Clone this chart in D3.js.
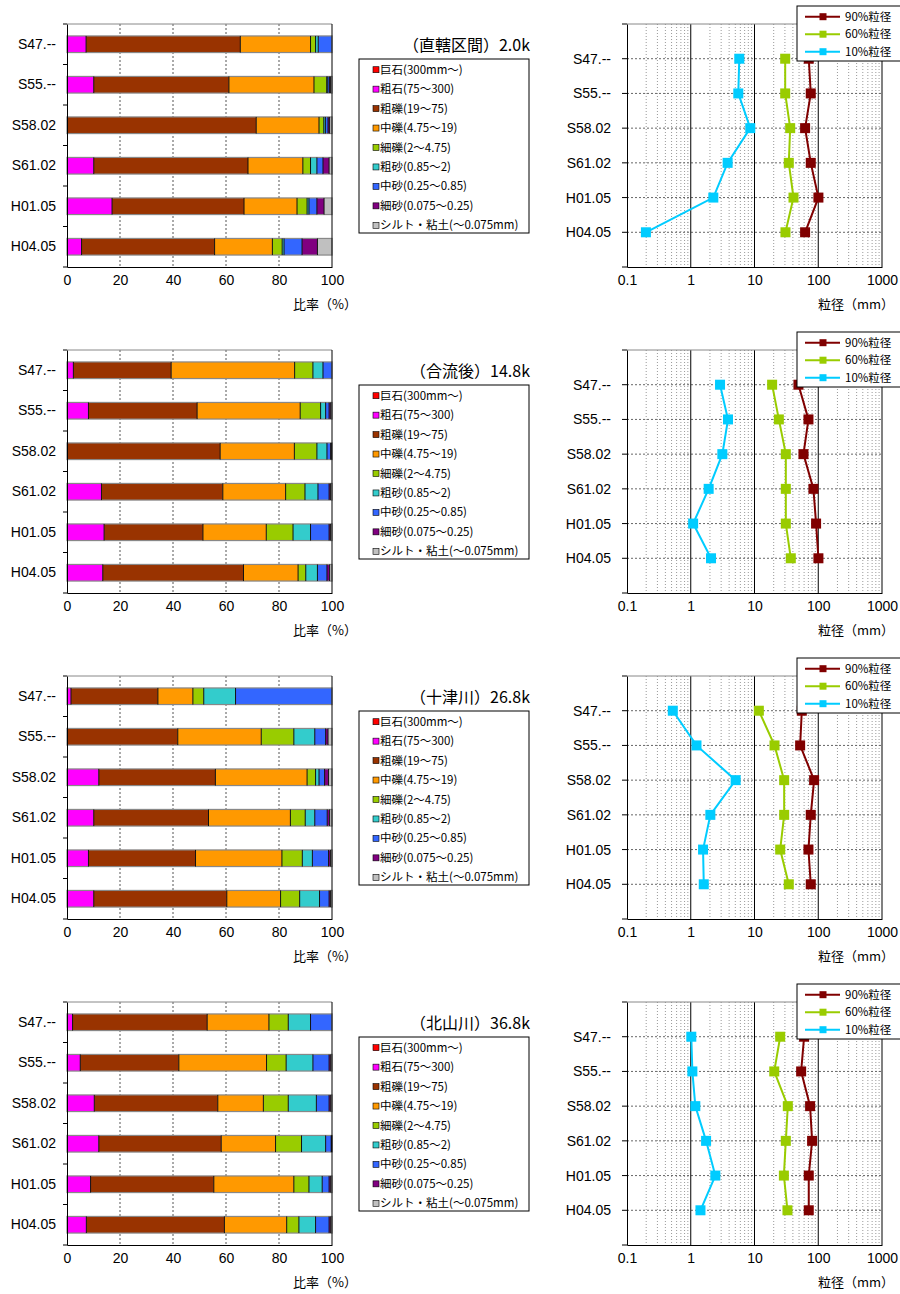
<!DOCTYPE html>
<html>
<head>
<meta charset="utf-8">
<script src="https://cdn.jsdelivr.net/npm/d3@7"></script>
<style>
  body { margin: 0; background: #fff; }
  text { font-family: "Liberation Sans", Arial, "Noto Sans CJK JP", sans-serif; }
  .jp { font-family: "Noto Sans CJK JP", sans-serif; }
</style>
</head>
<body>
<svg id="chart" width="900" height="1294"></svg>
<script>
// categories (survey years)
var categories = ["S47.--", "S55.--", "S58.02", "S61.02", "H01.05", "H04.05"];
var classNames = ["巨石(300mm～)", "粗石(75～300)", "粗礫(19～75)", "中礫(4.75～19)", "細礫(2～4.75)",
                  "粗砂(0.85～2)", "中砂(0.25～0.85)", "細砂(0.075～0.25)", "シルト・粘土(～0.075mm)"];
var classColors = ["#FF0000", "#FF00FF", "#993300", "#FF9900", "#99CC00", "#33CCCC", "#3366FF", "#800080", "#C0C0C0"];
var titles = ["（直轄区間）2.0k", "（合流後）14.8k", "（十津川）26.8k", "（北山川）36.8k"];
var xTicks = [0, 20, 40, 60, 80, 100];
var logTicks = [0.1, 1, 10, 100, 1000];
var sizeNames = ["90%粒径", "60%粒径", "10%粒径"];
var sizeColors = ["#800000", "#99CC00", "#00CCFF"];

// composition ratios (%), one row per category, one value per class
var ratio1 = [
  [0, 7.2, 58.2, 26.5, 1.9, 1.0, 5.2, 0, 0],
  [0, 10.1, 51.0, 32.1, 4.8, 0.4, 0.6, 0.4, 0.6],
  [0, 0, 71.4, 23.7, 1.8, 0.6, 1.0, 0.6, 0.9],
  [0, 10.1, 58.2, 20.7, 2.9, 2.4, 2.3, 2.3, 1.1],
  [0, 17.0, 49.8, 20.0, 3.8, 0.7, 3.0, 2.7, 3.0],
  [0, 5.5, 50.2, 21.8, 3.7, 0.7, 6.8, 5.8, 5.5]
];
var ratio2 = [
  [0, 2.4, 36.9, 46.6, 6.9, 3.8, 3.4, 0, 0],
  [0, 8.1, 41.0, 38.9, 7.7, 1.9, 1.3, 0.6, 0.5],
  [0, 0, 57.8, 28.0, 8.5, 3.8, 1.4, 0.2, 0.3],
  [0, 13.0, 45.8, 23.7, 7.3, 4.9, 4.2, 0.5, 0.6],
  [0, 14.0, 37.3, 23.9, 10.1, 6.6, 7.0, 0.5, 0.6],
  [0, 13.5, 53.1, 20.6, 2.9, 4.4, 3.6, 1.0, 0.9]
];
var ratio3 = [
  [0, 1.5, 32.8, 13.2, 4.1, 12.0, 36.4, 0, 0],
  [0, 0, 41.8, 31.5, 12.3, 7.9, 4.1, 0.9, 1.5],
  [0, 12.0, 44.0, 34.6, 3.2, 1.3, 2.1, 1.5, 1.3],
  [0, 10.1, 43.3, 30.9, 5.6, 3.6, 4.7, 0.9, 0.9],
  [0, 8.1, 40.4, 32.6, 7.7, 3.8, 6.1, 0.7, 0.6],
  [0, 10.1, 50.2, 20.3, 7.2, 7.5, 3.6, 0.5, 0.6]
];
var ratio4 = [
  [0, 2.1, 50.8, 23.3, 7.3, 8.4, 8.1, 0, 0],
  [0, 5.0, 37.2, 33.1, 7.4, 10.1, 6.1, 0.6, 0.5],
  [0, 10.3, 46.6, 17.2, 9.4, 10.6, 4.8, 0.6, 0.5],
  [0, 12.0, 46.2, 20.5, 9.8, 9.1, 2.1, 0.2, 0.1],
  [0, 8.9, 46.5, 30.2, 5.7, 5.0, 2.6, 0.6, 0.5],
  [0, 7.3, 52.1, 23.5, 4.6, 6.3, 5.1, 0.6, 0.5]
];
var ratios = [ratio1, ratio2, ratio3, ratio4];

// grain sizes (mm) per section
var d90 = [
  [71, 76.3, 62.2, 76.3, 100.6, 62.2],
  [48.9, 70.2, 58.6, 84.0, 92.5, 100.6],
  [55.2, 52.0, 86.1, 76.3, 70.2, 76.3],
  [60.0, 53.9, 74.5, 80.1, 71.0, 71.0]
];
var d60 = [
  [30.3, 30.3, 36.3, 34.5, 40.9, 30.6],
  [18.9, 24.1, 31.0, 31.0, 31.0, 37.1],
  [11.7, 20.6, 29.2, 29.2, 25.3, 34.5],
  [25.3, 20.4, 33.3, 31.0, 28.9, 32.9]
];
var d10 = [
  [5.77, 5.57, 8.58, 3.79, 2.26, 0.198],
  [2.88, 3.84, 3.13, 1.91, 1.09, 2.08],
  [0.523, 1.23, 5.06, 2.03, 1.56, 1.60],
  [1.02, 1.06, 1.18, 1.74, 2.43, 1.42]
];

var svg = d3.select("#chart");
var panelTops = [24, 350, 676, 1002];
var plotH = 243;
var barLeft = 67, barRight = 332;
var logLeft = 627, logRight = 882;

titles.forEach(function(t, p) {
  var top = panelTops[p];
  drawBars(p, top);
  drawClassLegend(p, top);
  drawSizes(p, top);
});

function drawBars(p, top) {
  var g = svg.append("g");
  var x = d3.scaleLinear().domain([0, 100]).range([barLeft, barRight]);
  var y = d3.scaleBand().domain(categories).range([top, top + plotH])
            .paddingInner(0.59).paddingOuter(0.295);

  g.selectAll(".vgrid").data(xTicks.slice(1, 5)).enter().append("line")
      .attr("x1", function(d) { return x(d); }).attr("x2", function(d) { return x(d); })
      .attr("y1", top).attr("y2", top + plotH)
      .style("stroke", "#555").style("stroke-dasharray", "2,2");

  ratios[p].forEach(function(row, i) {
    var cum = 0;
    var segs = row.map(function(v, k) {
      var s = { k: k, x0: cum, x1: Math.min(100, cum + v) };
      cum += v;
      return s;
    }).filter(function(s) { return s.x1 > s.x0; });
    var yy = y(categories[i]);
    var bh = y.bandwidth();

    g.selectAll(null).data(segs).enter().append("rect")
        .attr("x", function(s) { return x(s.x0); })
        .attr("width", function(s) { return x(s.x1) - x(s.x0); })
        .attr("y", yy).attr("height", bh)
        .style("fill", function(s) { return classColors[s.k]; });

    g.append("rect")
        .attr("x", x(0)).attr("y", yy).attr("width", x(100) - x(0)).attr("height", bh)
        .style("fill", "none").style("stroke", "#888").style("stroke-width", 1.2);

    g.selectAll(null).data(segs.slice(0, -1)).enter().append("line")
        .attr("x1", function(s) { return x(s.x1); }).attr("x2", function(s) { return x(s.x1); })
        .attr("y1", yy).attr("y2", yy + bh)
        .style("stroke", "#111").style("stroke-width", 1);
  });

  // frame
  g.append("line").attr("x1", barLeft).attr("x2", barRight).attr("y1", top).attr("y2", top)
      .style("stroke", "#888");
  g.append("line").attr("x1", barRight).attr("x2", barRight).attr("y1", top).attr("y2", top + plotH)
      .style("stroke", "#000");

  // y axis: labels at band centres, ticks at band edges
  var edges = categories.map(function(c) { return y(c) - (y.step() - y.bandwidth()) / 2; });
  edges.push(top + plotH);
  g.selectAll(".ytick").data(edges).enter().append("line")
      .attr("x1", barLeft - 4).attr("x2", barLeft)
      .attr("y1", function(d) { return d; }).attr("y2", function(d) { return d; })
      .style("stroke", "#000");
  var ya = g.append("g").attr("transform", "translate(" + barLeft + ",0)")
      .call(d3.axisLeft(y).tickSize(0).tickPadding(11));
  ya.select(".domain").style("stroke", "#000");
  ya.selectAll("text").style("font-size", "14px").style("fill", "#000");

  var xa = g.append("g").attr("transform", "translate(0," + (top + plotH) + ")")
      .call(d3.axisBottom(x).tickValues(xTicks).tickSize(0).tickPadding(8));
  xa.select(".domain").style("stroke", "#000");
  xa.selectAll("text").style("font-size", "14px").style("fill", "#000");

  g.append("text").attr("class", "jp")
      .attr("x", 357).attr("y", top + plotH + 42)
      .attr("text-anchor", "end").style("font-size", "13px")
      .text("比率（%）");
}

function drawClassLegend(p, top) {
  var g = svg.append("g");
  g.append("text").attr("class", "jp")
      .attr("x", 530).attr("y", top + 27)
      .attr("text-anchor", "end").style("font-size", "16px")
      .text(titles[p]);
  g.append("rect").attr("x", 359).attr("y", top + 35).attr("width", 170).attr("height", 174)
      .style("fill", "#fff").style("stroke", "#000");
  var item = g.selectAll(".item").data(classNames).enter().append("g")
      .attr("transform", function(d, i) { return "translate(376," + (top + 45.7 + i * 19.45) + ")"; });
  item.append("rect").attr("x", -3).attr("y", -3).attr("width", 6).attr("height", 6)
      .style("fill", function(d, i) { return classColors[i]; })
      .style("stroke", "#000").style("stroke-width", 0.6);
  item.append("text").attr("class", "jp").attr("x", 4).attr("y", 4)
      .style("font-size", "11.5px").text(function(d) { return d; });
}

function drawSizes(p, top) {
  var g = svg.append("g");
  var x = d3.scaleLog().domain([0.1, 1000]).range([logLeft, logRight]);
  var y = d3.scalePoint().domain(categories).range([top, top + plotH]).padding(1);

  var minor = [];
  [0.1, 1, 10, 100].forEach(function(b) {
    for (var m = 2; m <= 9; m++) minor.push(b * m);
  });
  g.selectAll(".minor").data(minor).enter().append("line")
      .attr("x1", function(d) { return x(d); }).attr("x2", function(d) { return x(d); })
      .attr("y1", top).attr("y2", top + plotH)
      .style("stroke", "#999").style("stroke-dasharray", "1,2");
  g.selectAll(".hgrid").data(categories).enter().append("line")
      .attr("x1", logLeft).attr("x2", logRight)
      .attr("y1", function(d) { return y(d); }).attr("y2", function(d) { return y(d); })
      .style("stroke", "#666").style("stroke-dasharray", "2,2");
  g.selectAll(".major").data([1, 10, 100]).enter().append("line")
      .attr("x1", function(d) { return x(d); }).attr("x2", function(d) { return x(d); })
      .attr("y1", top).attr("y2", top + plotH)
      .style("stroke", "#000");
  g.append("line").attr("x1", logLeft).attr("x2", logRight).attr("y1", top).attr("y2", top)
      .style("stroke", "#888");
  g.append("line").attr("x1", logRight).attr("x2", logRight).attr("y1", top).attr("y2", top + plotH)
      .style("stroke", "#808080").style("stroke-width", 2);

  var tickYs = [top].concat(categories.map(function(c) { return y(c); }), [top + plotH]);
  g.selectAll(".ytick").data(tickYs).enter().append("line")
      .attr("x1", logLeft - 5).attr("x2", logLeft)
      .attr("y1", function(d) { return d; }).attr("y2", function(d) { return d; })
      .style("stroke", "#000");
  var ya = g.append("g").attr("transform", "translate(" + logLeft + ",0)")
      .call(d3.axisLeft(y).tickSize(0).tickPadding(16));
  ya.select(".domain").style("stroke", "#000");
  ya.selectAll("text").style("font-size", "14px").style("fill", "#000");

  var xa = g.append("g").attr("transform", "translate(0," + (top + plotH) + ")")
      .call(d3.axisBottom(x).tickValues(logTicks).tickSize(0).tickPadding(8)
            .tickFormat(function(d) { return String(d); }));
  xa.select(".domain").style("stroke", "#000");
  xa.selectAll("text").style("font-size", "14px").style("fill", "#000");

  g.append("text").attr("class", "jp")
      .attr("x", 894).attr("y", top + plotH + 42)
      .attr("text-anchor", "end").style("font-size", "13px")
      .text("粒径（mm）");

  var series = [d90[p], d60[p], d10[p]];
  var line = d3.line()
      .x(function(d) { return x(d.v); })
      .y(function(d) { return y(d.c); });
  series.forEach(function(vals, s) {
    var pts = vals.map(function(v, i) { return { v: v, c: categories[i] }; });
    g.append("path").datum(pts).attr("d", line)
        .style("fill", "none").style("stroke", sizeColors[s]).style("stroke-width", 2);
    g.selectAll(null).data(pts).enter().append("rect")
        .attr("x", function(d) { return x(d.v) - 5; })
        .attr("y", function(d) { return y(d.c) - 5; })
        .attr("width", 10).attr("height", 10)
        .style("fill", sizeColors[s]);
  });

  // legend
  var lg = g.append("g");
  lg.append("rect").attr("x", 797).attr("y", top - 18).attr("width", 110).attr("height", 55)
      .style("fill", "#fff").style("stroke", "#000");
  var it = lg.selectAll(".it").data(sizeNames).enter().append("g")
      .attr("transform", function(d, i) { return "translate(0," + (top - 7.3 + i * 17.5) + ")"; });
  it.append("line").attr("x1", 805).attr("x2", 840).attr("y1", 0).attr("y2", 0)
      .style("stroke", function(d, i) { return sizeColors[i]; }).style("stroke-width", 2);
  it.append("rect").attr("x", 819.5).attr("y", -3.5).attr("width", 7).attr("height", 7)
      .style("fill", function(d, i) { return sizeColors[i]; });
  it.append("text").attr("class", "jp").attr("x", 845).attr("y", 4)
      .style("font-size", "11.5px").text(function(d) { return d; });
}
</script>
</body>
</html>
